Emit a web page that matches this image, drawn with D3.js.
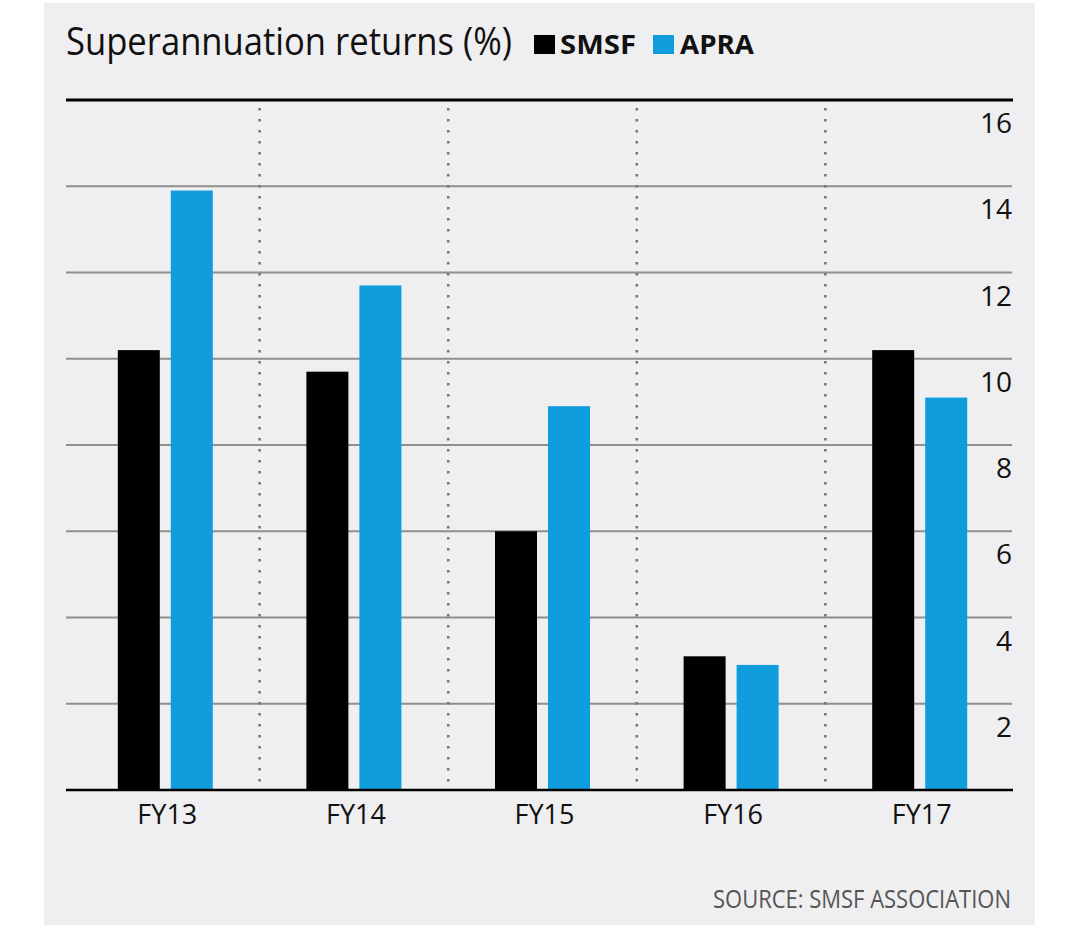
<!DOCTYPE html>
<html><head><meta charset="utf-8">
<script src="https://cdn.jsdelivr.net/npm/d3@7"></script>
<style>html,body{margin:0;padding:0;background:#fff;}svg{display:block;}</style>
</head><body>
<svg id="chart" width="1080" height="936"></svg>
<script>
const categories = ["FY13", "FY14", "FY15", "FY16", "FY17"];
const seriesNames = ["SMSF", "APRA"];
const smsf = [10.2, 9.7, 6.0, 3.1, 10.2];
const apra = [13.9, 11.7, 8.9, 2.9, 9.1];
const yTicks = [2, 4, 6, 8, 10, 12, 14, 16];
const colors = ["#000000", "#109ddd"];
const title = "Superannuation returns (%)";
const source = "SOURCE: SMSF ASSOCIATION";

(function () {
const svg = d3.select("#chart");
const font = "'Open Sans', 'Noto Sans', sans-serif";

svg.append("rect").attr("x", 44).attr("y", 3).attr("width", 991).attr("height", 922).attr("fill", "#efeef0");

const pLeft = 66, pRight = 1012, pTop = 100, pBottom = 790;
const y = d3.scaleLinear().domain([0, 16]).range([pBottom, pTop]);
const x0 = d3.scaleBand().domain(categories).range([71, 1014]).paddingInner(0).paddingOuter(0);
const x1 = d3.scaleBand().domain(seriesNames).range([0, 95]).paddingInner(11/53).paddingOuter(0);

// gridlines
svg.append("g").selectAll("line").data(yTicks.filter(d => d !== 16)).join("line")
  .attr("x1", pLeft).attr("x2", pRight).attr("y1", d => y(d)).attr("y2", d => y(d))
  .attr("stroke", "#8f8f8f").attr("stroke-width", 2);

// dotted separators
svg.append("g").selectAll("line").data(categories.slice(1)).join("line")
  .attr("x1", d => x0(d)).attr("x2", d => x0(d)).attr("y1", pTop + 8).attr("y2", pBottom - 2)
  .attr("stroke", "#777").attr("stroke-width", 2.6).attr("stroke-dasharray", "2.4 8.6");

// bars
const data = categories.map((c, i) => ({cat: c, vals: [smsf[i], apra[i]]}));
const groups = svg.append("g").selectAll("g").data(data).join("g")
  .attr("transform", d => `translate(${x0(d.cat) + x0.bandwidth() / 2 - 47.5},0)`);
groups.selectAll("rect").data(d => d.vals.map((v, j) => ({s: seriesNames[j], v, j}))).join("rect")
  .attr("x", d => x1(d.s)).attr("width", x1.bandwidth())
  .attr("y", d => y(d.v)).attr("height", d => y(0) - y(d.v))
  .attr("fill", d => colors[d.j]);

// top line & baseline
svg.append("line").attr("x1", pLeft).attr("x2", pRight + 1).attr("y1", y(16)).attr("y2", y(16))
  .attr("stroke", "#000").attr("stroke-width", 3);
svg.append("line").attr("x1", pLeft).attr("x2", pRight + 1).attr("y1", y(0)).attr("y2", y(0))
  .attr("stroke", "#000").attr("stroke-width", 2.5);

// y tick labels (right side, below each line)
svg.append("g").selectAll("text").data(yTicks).join("text")
  .attr("x", pRight).attr("y", d => y(d) + 33).attr("text-anchor", "end")
  .attr("font-family", font).attr("font-size", 28).attr("fill", "#111")
  .text(d => d);

// x labels
const xAxis = d3.axisBottom(x0).tickSize(0).tickPadding(0);
const xg = svg.append("g").attr("transform", `translate(0,${pBottom})`).call(xAxis);
xg.select(".domain").remove();
xg.selectAll("text").attr("font-family", font).attr("font-size", 27).attr("fill", "#111")
  .attr("dy", 0).attr("y", 34).attr("dx", 2);

// title
svg.append("text").attr("x", 66).attr("y", 55).attr("font-family", font).attr("font-size", 38)
  .attr("font-weight", 500)
  .attr("fill", "#111").attr("textLength", 446).attr("lengthAdjust", "spacingAndGlyphs").text(title);

// legend
const legendX = [534, 653], legendTextX = [560, 680], legendW = [76, 74];
seriesNames.forEach((s, i) => {
  svg.append("rect").attr("x", legendX[i]).attr("y", 35).attr("width", 21).attr("height", 19).attr("fill", colors[i]);
  svg.append("text").attr("x", legendTextX[i]).attr("y", 54).attr("font-family", font).attr("font-weight", 700)
    .attr("font-size", 27).attr("fill", "#111").attr("textLength", legendW[i]).attr("lengthAdjust", "spacingAndGlyphs").text(s);
});

// source
svg.append("text").attr("x", 1011).attr("y", 908).attr("text-anchor", "end").attr("font-family", font)
  .attr("font-size", 25).attr("fill", "#555").attr("textLength", 298).attr("lengthAdjust", "spacingAndGlyphs").text(source);
})();
</script>
</body></html>
